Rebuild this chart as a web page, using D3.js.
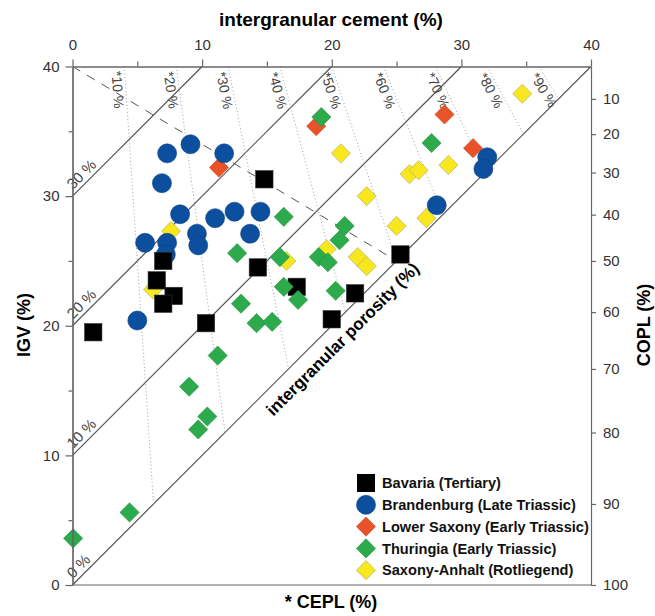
<!DOCTYPE html>
<html>
<head>
<meta charset="utf-8">
<script src="https://cdn.jsdelivr.net/npm/d3@7"></script>
<style>
  body { margin: 0; background: #fff; }
  svg { font-family: "Liberation Sans", Arial, sans-serif; }
</style>
</head>
<body>
<div id="chart"></div>
<script>
// points: [intergranular cement %, IGV %]
var bavaria = [[1.6,19.5],[7.0,25.0],[6.5,23.5],[7.8,22.3],[7.0,21.7],[10.3,20.2],[14.3,24.5],[14.8,31.3],[17.3,23.0],[21.8,22.5],[20.0,20.5],[25.3,25.5]];
var brandenburg = [[7.3,33.3],[9.1,34.0],[11.7,33.3],[6.9,31.0],[8.3,28.6],[11.0,28.3],[12.5,28.8],[14.5,28.8],[9.6,27.1],[9.7,26.2],[13.7,27.1],[5.6,26.4],[7.3,26.4],[7.2,25.5],[5.0,20.4],[32.0,33.0],[31.7,32.1],[28.1,29.3]];
var lowerSaxony = [[11.3,32.2],[18.8,35.4],[28.7,36.3],[30.9,33.7]];
var thuringia = [[19.2,36.1],[27.7,34.1],[16.3,28.4],[12.7,25.6],[16.0,25.3],[19.0,25.3],[19.7,24.9],[21.0,27.7],[20.6,26.6],[16.3,23.0],[17.4,22.0],[20.3,22.7],[13.0,21.7],[14.2,20.2],[15.4,20.3],[11.2,17.7],[9.0,15.3],[10.4,13.0],[9.7,12.0],[4.4,5.6],[0.05,3.6]];
var saxonyAnhalt = [[34.7,37.9],[20.7,33.3],[26.0,31.7],[26.7,32.0],[29.0,32.4],[22.7,30.0],[25.0,27.7],[27.3,28.3],[22.0,25.3],[22.7,24.6],[19.6,25.9],[16.5,25.0],[7.6,27.3],[6.2,22.8]];

var legendNames = ["Bavaria (Tertiary)", "Brandenburg (Late Triassic)", "Lower Saxony (Early Triassic)", "Thuringia (Early Triassic)", "Saxony-Anhalt (Rotliegend)"];

var majorTicks = [0, 10, 20, 30, 40];
var minorTicks = [5, 15, 25, 35];
var coplTicks = [10, 20, 30, 40, 50, 60, 70, 80, 90, 100];
var porosityLines = [0, 10, 20, 30];
var ceplLines = [10, 20, 30, 40, 50, 60, 70, 80, 90];

var w = 655, h = 616;
var padL = 72.5, padR = 591, padT = 66.5, padB = 585;
var P0 = 40; // initial porosity

var svg = d3.select("#chart").append("svg").attr("width", w).attr("height", h);

var xScale = d3.scaleLinear().domain([0, 40]).range([padL, padR]);
var yScale = d3.scaleLinear().domain([0, 40]).range([padB, padT]);

// COPL (normalised to initial porosity) -> IGV
function coplToIgv(l) {
  var c = P0 * l / 100;
  return (P0 - c) / (1 - c / 100);
}

//intergranular porosity lines
svg.selectAll(".por-line")
  .data(porosityLines)
  .enter()
  .append("line")
  .attr("x1", xScale(0))
  .attr("y1", function (d) { return yScale(d); })
  .attr("x2", function (d) { return xScale(40 - d); })
  .attr("y2", yScale(40))
  .style("stroke", "#555")
  .style("stroke-width", 1.2);

svg.selectAll(".por-label")
  .data(porosityLines)
  .enter()
  .append("text")
  .attr("transform", function (d) {
    return "translate(" + xScale(0.25) + "," + yScale(d + 0.25) + ") rotate(-45)";
  })
  .attr("dy", -4)
  .style("font-size", "15px")
  .style("fill", "#444")
  .text(function (d) { return d + " %"; });

//CEPL dotted lines, from top edge down to the 0 % porosity line
var cepl = ceplLines.map(function (p) {
  var cTop = P0 * p / 100;
  var iEnd = (P0 * p) / ((100 - P0) + P0 * p / 100);
  return { p: p, x1: xScale(cTop), y1: yScale(40), x2: xScale(iEnd), y2: yScale(iEnd) };
});

svg.selectAll(".cepl-line")
  .data(cepl)
  .enter()
  .append("line")
  .attr("x1", function (d) { return d.x1; })
  .attr("y1", function (d) { return d.y1; })
  .attr("x2", function (d) { return d.x2; })
  .attr("y2", function (d) { return d.y2; })
  .style("stroke", "#a0a0a0")
  .style("stroke-width", 1)
  .style("stroke-dasharray", "1,2.5");

svg.selectAll(".cepl-label")
  .data(cepl)
  .enter()
  .append("text")
  .attr("transform", function (d) {
    var a = Math.atan2(d.y2 - d.y1, d.x2 - d.x1);
    var px = d.x1 + 4 * Math.cos(a), py = d.y1 + 4 * Math.sin(a);
    return "translate(" + px + "," + py + ") rotate(" + (a * 180 / Math.PI) + ")";
  })
  .attr("dy", 13)
  .style("font-size", "14px")
  .style("fill", "#444")
  .text(function (d) { return "*" + d.p + " %"; });

//dashed line COPL = CEPL
svg.append("line")
  .attr("x1", xScale(0))
  .attr("y1", yScale(40))
  .attr("x2", xScale(25))
  .attr("y2", yScale(25))
  .style("stroke", "#555")
  .style("stroke-width", 1)
  .style("stroke-dasharray", "9,8");

//porosity axis title along the 0 % line
svg.append("text")
  .attr("transform", "translate(" + xScale(19.9) + "," + yScale(19.9) + ") rotate(-45)")
  .attr("dy", 23)
  .attr("text-anchor", "middle")
  .style("font-size", "17px")
  .style("font-weight", "bold")
  .text("intergranular porosity (%)");

//points
function diamond(g, data, fill, stroke) {
  g.selectAll(null)
    .data(data)
    .enter()
    .append("path")
    .attr("transform", function (d) { return "translate(" + xScale(d[0]) + "," + yScale(d[1]) + ")"; })
    .attr("d", "M0,-9.6L9.6,0L0,9.6L-9.6,0Z")
    .style("fill", fill)
    .style("stroke", stroke)
    .style("stroke-width", 0.6);
}
function square(g, data) {
  g.selectAll(null)
    .data(data)
    .enter()
    .append("rect")
    .attr("x", function (d) { return xScale(d[0]) - 8.7; })
    .attr("y", function (d) { return yScale(d[1]) - 8.7; })
    .attr("width", 17.4)
    .attr("height", 17.4)
    .style("fill", "#000")
    .style("stroke", "#333")
    .style("stroke-width", 0.6);
}
function circle(g, data) {
  g.selectAll(null)
    .data(data)
    .enter()
    .append("circle")
    .attr("cx", function (d) { return xScale(d[0]); })
    .attr("cy", function (d) { return yScale(d[1]); })
    .attr("r", 9.5)
    .style("fill", "#0d4f9f")
    .style("stroke", "#0a3f80")
    .style("stroke-width", 0.6);
}

var pts = svg.append("g");
diamond(pts, saxonyAnhalt, "#f8e71c", "#aaa58a");
diamond(pts, lowerSaxony, "#e9532a", "#c8461f");
circle(pts, brandenburg);
square(pts, bavaria);
diamond(pts, thuringia, "#2daa4b", "#23903e");

//axes
var axes = svg.append("g").attr("class", "axes");
axes.append("g")
  .attr("transform", "translate(0," + padT + ")")
  .call(d3.axisTop(xScale).tickValues(majorTicks).tickSize(7).tickPadding(10).tickSizeOuter(0));
axes.append("g")
  .attr("transform", "translate(0," + padT + ")")
  .call(d3.axisTop(xScale).tickValues(minorTicks).tickSize(5).tickFormat("").tickSizeOuter(0));

axes.append("g")
  .attr("transform", "translate(" + padL + ",0)")
  .call(d3.axisLeft(yScale).tickValues(majorTicks).tickSize(7).tickPadding(6).tickSizeOuter(0));
axes.append("g")
  .attr("transform", "translate(" + padL + ",0)")
  .call(d3.axisLeft(yScale).tickValues(minorTicks).tickSize(4).tickFormat("").tickSizeOuter(0));

axes.append("g")
  .attr("transform", "translate(" + padR + ",0)")
  .call(d3.axisRight(yScale).tickValues(coplTicks.map(coplToIgv)).tickSize(5).tickPadding(7).tickSizeOuter(0)
    .tickFormat(function (d, i) { return coplTicks[i]; }));

axes.append("line")
  .attr("class", "bottom-line")
  .attr("x1", padL).attr("x2", padR)
  .attr("y1", padB).attr("y2", padB);

axes.selectAll(".domain, .tick line, .bottom-line")
  .style("stroke", "#666")
  .style("stroke-width", 1.2);
axes.selectAll(".tick text")
  .style("font-size", "15px")
  .style("fill", "#333")
  .style("font-family", "\"Liberation Sans\", Arial, sans-serif");

//axis titles
svg.append("text")
  .attr("x", 331).attr("y", 26)
  .attr("text-anchor", "middle")
  .style("font-size", "19px").style("font-weight", "bold")
  .text("intergranular cement (%)");

svg.append("text")
  .attr("x", 331).attr("y", 608)
  .attr("text-anchor", "middle")
  .style("font-size", "18px").style("font-weight", "bold")
  .text("* CEPL (%)");

svg.append("text")
  .attr("transform", "translate(30,325) rotate(-90)")
  .attr("text-anchor", "middle")
  .style("font-size", "18px").style("font-weight", "bold")
  .text("IGV (%)");

svg.append("text")
  .attr("transform", "translate(650,325) rotate(-90)")
  .attr("text-anchor", "middle")
  .style("font-size", "18px").style("font-weight", "bold")
  .text("COPL (%)");

//legend
var legend = svg.append("g").attr("transform", "translate(366,483)");
var rowH = 21.8;
legend.append("rect").attr("x", -9).attr("y", -9).attr("width", 18).attr("height", 18).style("fill", "#000");
legend.append("circle").attr("cx", 0).attr("cy", rowH).attr("r", 9.5).style("fill", "#0d4f9f").style("stroke", "#0a3f80").style("stroke-width", 0.6);
[["#e9532a", "#c8461f"], ["#2daa4b", "#23903e"], ["#f8e71c", "#aaa58a"]].forEach(function (c, i) {
  legend.append("path")
    .attr("transform", "translate(0," + (rowH * (i + 2)) + ")")
    .attr("d", "M0,-9.6L9.6,0L0,9.6L-9.6,0Z")
    .style("fill", c[0]).style("stroke", c[1]).style("stroke-width", 0.6);
});
legend.selectAll("legendLabels")
  .data(legendNames)
  .enter()
  .append("text")
  .attr("x", 16)
  .attr("y", function (d, i) { return i * rowH; })
  .attr("dy", "0.36em")
  .style("font-size", "14.6px")
  .style("font-weight", "bold")
  .style("fill", "#111")
  .text(function (d) { return d; });
</script>
</body>
</html>
